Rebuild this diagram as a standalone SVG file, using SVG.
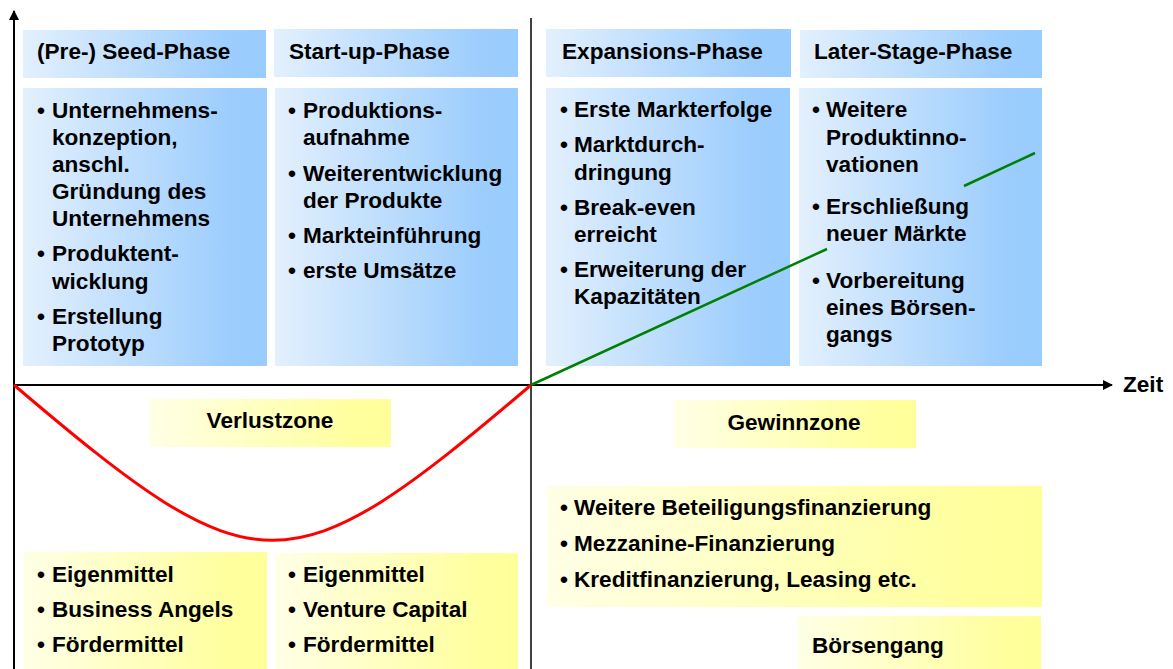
<svg xmlns="http://www.w3.org/2000/svg" width="1173" height="669" viewBox="0 0 1173 669">
<defs>
<linearGradient id="gb" x1="0" y1="0" x2="1" y2="0">
<stop offset="0" stop-color="#e3f0fd"/>
<stop offset="0.85" stop-color="#9ccdfd"/>
<stop offset="1" stop-color="#99ccff"/>
</linearGradient>
<linearGradient id="gy" x1="0" y1="0" x2="1" y2="0">
<stop offset="0" stop-color="#ffffe6"/>
<stop offset="0.85" stop-color="#ffff9e"/>
<stop offset="1" stop-color="#ffff99"/>
</linearGradient>
<marker id="ah" viewBox="0 0 10 10" refX="9" refY="5" markerWidth="5" markerHeight="5" orient="auto" markerUnits="strokeWidth">
<path d="M0,0 L10,5 L0,10 z" fill="#000"/>
</marker>
<style>
.b{fill:url(#gb)}
.y{fill:url(#gy)}
text{font-family:"Liberation Sans",Arial,Helvetica,sans-serif;font-weight:bold;font-size:22.6px;fill:#000}
.ax{stroke:#000;stroke-width:2;fill:none}
</style>
</defs>
<rect width="1173" height="669" fill="#fff"/>

<g id="seed-header"><rect class="b" x="23" y="30" width="243" height="48"/><text x="37" y="59">(Pre-) Seed-Phase</text></g>
<g id="startup-header"><rect class="b" x="274" y="29" width="244" height="48"/><text x="289" y="59">Start-up-Phase</text></g>
<g id="expansion-header"><rect class="b" x="546" y="29" width="245" height="48"/><text x="562" y="59">Expansions-Phase</text></g>
<g id="later-header"><rect class="b" x="800" y="30" width="242" height="48"/><text x="814" y="59">Later-Stage-Phase</text></g>

<g id="seed-body"><rect class="b" x="23" y="88" width="244" height="278"/>
<text x="37" y="118">•</text><text x="52" y="118">Unternehmens-</text>
<text x="52" y="145">konzeption,</text>
<text x="52" y="172">anschl.</text>
<text x="52" y="199">Gründung des</text>
<text x="52" y="226">Unternehmens</text>
<text x="37" y="261">•</text><text x="52" y="261">Produktent-</text>
<text x="52" y="289">wicklung</text>
<text x="37" y="324">•</text><text x="52" y="324">Erstellung</text>
<text x="52" y="351">Prototyp</text>
</g>
<g id="startup-body"><rect class="b" x="275" y="88" width="243" height="278"/>
<text x="288" y="118">•</text><text x="303" y="118">Produktions-</text>
<text x="303" y="145">aufnahme</text>
<text x="288" y="181">•</text><text x="303" y="181">Weiterentwicklung</text>
<text x="303" y="208">der Produkte</text>
<text x="288" y="243">•</text><text x="303" y="243">Markteinführung</text>
<text x="288" y="278">•</text><text x="303" y="278">erste Umsätze</text>
</g>
<g id="expansion-body"><rect class="b" x="546" y="88" width="244" height="278"/>
<text x="560" y="117">•</text><text x="574" y="117">Erste Markterfolge</text>
<text x="560" y="152">•</text><text x="574" y="152">Marktdurch-</text>
<text x="574" y="180">dringung</text>
<text x="560" y="215">•</text><text x="574" y="215">Break-even</text>
<text x="574" y="242">erreicht</text>
<text x="560" y="277">•</text><text x="574" y="277">Erweiterung der</text>
<text x="574" y="304">Kapazitäten</text>
</g>
<g id="later-body"><rect class="b" x="799" y="88" width="243" height="278"/>
<text x="812" y="117">•</text><text x="826" y="117">Weitere</text>
<text x="826" y="145">Produktinno-</text>
<text x="826" y="172">vationen</text>
<text x="812" y="214">•</text><text x="826" y="214">Erschließung</text>
<text x="826" y="241">neuer Märkte</text>
<text x="812" y="288">•</text><text x="826" y="288">Vorbereitung</text>
<text x="826" y="315">eines Börsen-</text>
<text x="826" y="342">gangs</text>
</g>

<g id="verlustzone"><rect class="y" x="150" y="399" width="241" height="48"/><text x="270" y="428" text-anchor="middle">Verlustzone</text></g>
<g id="gewinnzone"><rect class="y" x="674" y="400" width="242" height="48"/><text x="794" y="430" text-anchor="middle">Gewinnzone</text></g>
<g id="seed-funding"><rect class="y" x="24" y="552" width="243" height="117"/>
<text x="37" y="582">•</text><text x="52" y="582">Eigenmittel</text>
<text x="37" y="617">•</text><text x="52" y="617">Business Angels</text>
<text x="37" y="652">•</text><text x="52" y="652">Fördermittel</text>
</g>
<g id="startup-funding"><rect class="y" x="275" y="553" width="243" height="116"/>
<text x="288" y="582">•</text><text x="303" y="582">Eigenmittel</text>
<text x="288" y="617">•</text><text x="303" y="617">Venture Capital</text>
<text x="288" y="652">•</text><text x="303" y="652">Fördermittel</text>
</g>
<g id="expansion-funding"><rect class="y" x="547" y="486" width="495" height="121"/>
<text x="560" y="515">•</text><text x="574" y="515">Weitere Beteiligungsfinanzierung</text>
<text x="560" y="551">•</text><text x="574" y="551">Mezzanine-Finanzierung</text>
<text x="560" y="587">•</text><text x="574" y="587">Kreditfinanzierung, Leasing etc.</text>
</g>
<g id="boersengang"><rect class="y" x="798" y="616" width="243" height="53"/><text x="812" y="653">Börsengang</text></g>

<g id="connectors">
<line class="ax" x1="14" y1="669" x2="14" y2="11" marker-end="url(#ah)"/>
<line x1="531" y1="18" x2="531" y2="669" stroke="#000" stroke-width="1.5"/>
<line class="ax" x1="14" y1="385" x2="1112" y2="385" marker-end="url(#ah)"/>
<path d="M14,385 C257,592 288,592 531,385" fill="none" stroke="#ff0000" stroke-width="3"/>
<path d="M531,385 L827,249 M964,186 L1035,153" fill="none" stroke="#008000" stroke-width="2.5"/>
</g>
<g id="zeit"><text x="1123" y="392">Zeit</text></g>
</svg>
